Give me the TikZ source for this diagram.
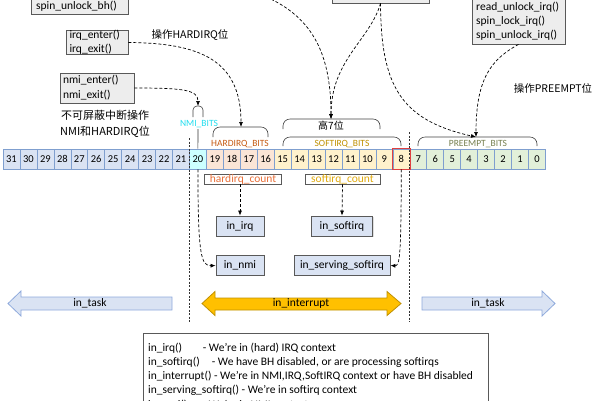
\documentclass[tikz,border=0pt]{standalone}
\usepackage{fontspec}
\setmainfont{Carlito}
\newfontfamily\cjk{Noto Sans CJK SC}
\usetikzlibrary{arrows.meta,shadows}
\definecolor{cblue}{HTML}{DAE3F3}
\definecolor{cblueb}{HTML}{7F9FCF}
\definecolor{ccyan}{HTML}{CCFFFF}
\definecolor{corange}{HTML}{FBE5D6}
\definecolor{cyel}{HTML}{FFF2CC}
\definecolor{cgreen}{HTML}{E2F0D9}
\definecolor{boxgray}{HTML}{EDEDED}
\definecolor{edge}{HTML}{595959}
\definecolor{hardc}{HTML}{C55A11}
\definecolor{softc}{HTML}{BF9000}
\definecolor{preemc}{HTML}{76804F}
\definecolor{nmic}{HTML}{22DDEE}
\definecolor{hcount}{HTML}{E8703A}
\definecolor{scount}{HTML}{E0AA10}
\definecolor{intfill}{HTML}{FFC000}
\definecolor{intdraw}{HTML}{C09000}
\definecolor{taskdraw}{HTML}{8FAADC}
\definecolor{redb}{HTML}{E04040}
\begin{document}
\begin{tikzpicture}[x=1pt,y=-1pt,
  font=\fontsize{11.5}{14}\selectfont,
  cell/.style={draw=cblueb, line width=0.6pt, minimum width=16.95pt, minimum height=20pt, inner sep=0pt, font=\fontsize{10.5}{12}\selectfont},
  fbox/.style={draw=edge, fill=boxgray, line width=0.8pt, inner sep=0pt},
  ibox/.style={draw=edge, fill=cblue, line width=0.8pt, inner sep=0pt, drop shadow={shadow xshift=1pt,shadow yshift=-1pt,opacity=0.25}},
  cbox/.style={draw=edge, fill=white, line width=0.6pt, inner sep=0pt, minimum height=10pt},
  brk/.style={draw=black!75, line width=0.6pt, rounded corners=7pt},
  dar/.style={densely dashed, line width=0.7pt, -{Latex[length=5pt,width=4pt]}},
  vdash/.style={dash pattern=on 2pt off 1.5pt, line width=0.7pt, black!80},
  blab/.style={font=\fontsize{9.5}{11}\selectfont, inner sep=0pt},
  cjklab/.style={font=\cjk\fontsize{10.5}{12}\selectfont, inner sep=0pt},
  lline/.style={anchor=base west, inner sep=0pt},
]
\useasboundingbox (0,0) rectangle (600,400);
\clip (0,0) rectangle (600,400);

% top boxes
\node[fbox, minimum width=97pt, minimum height=40pt] (spinbox) at (79.5,-6) {};
\node[anchor=west, inner sep=0pt] (spintext) at (36,6) {spin\_unlock\_bh()};
\node[fbox, minimum width=62pt, minimum height=23pt, text width=55pt, inner xsep=3.5pt, align=left] (irqbox) at (97,42.5) {irq\_enter()\\irq\_exit()};
\node[fbox, minimum width=74pt, minimum height=30pt, text width=68pt, inner xsep=3pt, align=left, font=\fontsize{11.5}{15}\selectfont] (nmibox) at (97,88) {nmi\_enter()\\nmi\_exit()};
\node[fbox, minimum width=97pt, minimum height=30pt] (midbox) at (380.5,-12) {};
\node[fbox, minimum width=93pt, minimum height=70pt] (rbox) at (518.5,9) {};
\node[anchor=north west, inner sep=0pt, align=left, font=\fontsize{11.5}{14.3}\selectfont] (rtext) at (476,1.5) {read\_unlock\_irq()\\spin\_lock\_irq()\\spin\_unlock\_irq()};
\coordinate (topsrc) at (262,-5);

% labels
\node[cjklab] (ophard) at (190,35) {操作HARDIRQ位};
\node[cjklab, font=\cjk\fontsize{11}{15.5}\selectfont, align=center] (opnmi) at (105,124) {不可屏蔽中断操作\\NMI和HARDIRQ位};
\node[cjklab] (oppre) at (553,88) {操作PREEMPT位};

% bit cells
\foreach \i in {0,...,31}{
  \pgfmathsetmacro{\xc}{3+(31-\i)*16.95+8.475}
  \ifnum\i>20 \def\cf{cblue}\fi
  \ifnum\i=20 \def\cf{ccyan}\fi
  \ifnum\i<20 \def\cf{corange}\fi
  \ifnum\i<16 \def\cf{cyel}\fi
  \ifnum\i<8 \def\cf{cgreen}\fi
  \node[cell, fill=\cf] (c\i) at (\xc,159) {\i};
}
\draw[redb, line width=0.8pt] (c8.north west) rectangle (c8.south east);

% brackets
\draw[brk, rounded corners=4pt] (193,117) -- (193,106) -- (203,106) -- (203,117);
\draw[black!80, line width=0.6pt] (198,129) -- (c20.north);
\node[blab, text=nmic] (nmil) at (199,124) {NMI\_BITS};
\draw[brk] (213,137) -- (213,127) -- (268,127) -- (268,137);
\node[blab, text=hardc] (hardl) at (240,144) {HARDIRQ\_BITS};
\draw[brk] (283,129) -- (283,119) -- (380,119) -- (380,129);
\node[cjklab, font=\cjk\fontsize{10}{12}\selectfont] (highl) at (331,126) {高7位};
\draw[brk] (283,146) -- (283,137) -- (401,137) -- (401,146);
\node[blab, text=softc] (softl) at (342,144) {SOFTIRQ\_BITS};
\draw[brk] (418,146) -- (418,137) -- (537,137) -- (537,146);
\node[blab, text=preemc] (preel) at (478,144) {PREEMPT\_BITS};
\coordinate (nmitop) at (198,106);
\coordinate (hardtop) at (241,127);
\coordinate (hightop) at (331,119);
\coordinate (preetop) at (476,137);

% vertical dashed separators
\draw[vdash] (189,138) -- (189,322);
\draw[vdash] (409,132) -- (409,322);

% count boxes and in_ boxes
\node[cbox, minimum width=77pt, text=hcount] (hcnt) at (243,179) {hardirq\_count};
\node[cbox, minimum width=75pt, text=scount] (scnt) at (342.5,179) {softirq\_count};
\node[ibox, minimum width=48pt, minimum height=20pt] (inirq) at (240,226) {in\_irq};
\node[ibox, minimum width=61pt, minimum height=20pt] (insoft) at (342,226) {in\_softirq};
\node[ibox, minimum width=48pt, minimum height=19.5pt] (innmi) at (240,265.5) {in\_nmi};
\node[ibox, minimum width=96pt, minimum height=19.5pt] (inserv) at (342,265.5) {in\_serving\_softirq};

% arrows
\draw[dar] (inirq.north |- hcnt.south) -- (inirq.north);
\draw[dar] (scnt.south) -- (insoft.north);
\draw[dar] (c20.south) .. controls (198,255) and (201,266) .. (innmi.west);
\draw[dar] (c8.south) .. controls (401,255) and (400,266) .. (inserv.east);
\draw[dar] (irqbox.east) .. controls (200,43) and (241,60) .. (hardtop);
\draw[dar] (nmibox.east) .. controls (185,88) and (198,90) .. (nmitop);
\draw[dar] (topsrc) .. controls (310,15) and (331,50) .. (hightop);
\draw[dar] (midbox.south) .. controls (370,40) and (331,60) .. (hightop);
\draw[dar] (midbox.south) .. controls (381,85) and (400,120) .. (preetop);
\draw[dar] (rbox.south) .. controls (490,60) and (476,80) .. (preetop);

% bottom arrows
\draw[fill=cblue, draw=taskdraw, line width=0.8pt] (8,303.5) -- (21,291) -- (21,297) -- (172,297) -- (172,310) -- (21,310) -- (21,316) -- cycle;
\node (taskl) at (90,303.5) {in\_task};
\draw[fill=intfill, draw=intdraw, line width=0.8pt] (202,303.5) -- (215,291.5) -- (215,298) -- (387,298) -- (387,291.5) -- (401,303.5) -- (387,315.5) -- (387,310) -- (215,310) -- (215,315.5) -- cycle;
\node (intl) at (301,303.5) {in\_interrupt};
\draw[fill=cblue, draw=taskdraw, line width=0.8pt] (422,297) -- (542,297) -- (542,291) -- (555,303.5) -- (542,316) -- (542,310) -- (422,310) -- cycle;
\node (taskr) at (488,303.5) {in\_task};

% legend
\node[draw=edge, line width=0.8pt, fill=white, anchor=north west, minimum width=345pt, minimum height=90pt] (legend) at (143,333) {};
\node[lline] (l1) at (148,351) {\makebox[54.7pt][l]{in\_irq()}- We're in (hard) IRQ context};
\node[lline] (l2) at (148,365.2) {\makebox[63.7pt][l]{in\_softirq()}- We have BH disabled, or are processing softirqs};
\node[lline] (l3) at (148,379.4) {in\_interrupt() - We're in NMI,IRQ,SoftIRQ context or have BH disabled};
\node[lline] (l4) at (148,393.6) {in\_serving\_softirq() - We're in softirq context};
\node[lline] (l5) at (148,408.5) {\makebox[54.7pt][l]{in\_nmi()}- We're in NMI context};
\end{tikzpicture}
\end{document}
